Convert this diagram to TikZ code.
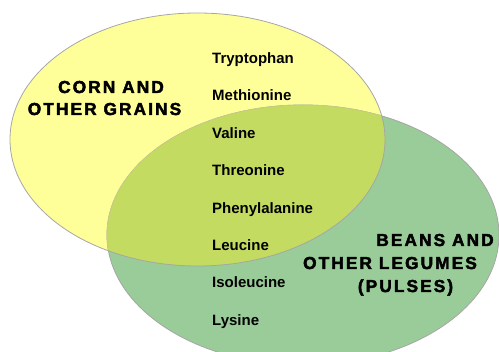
\documentclass[tikz,border=0pt]{standalone}
\usepackage{fontspec}
\setmainfont{Liberation Sans}
\newfontfamily\headfont[LetterSpace=12,FakeBold=2.5]{Liberation Sans Bold}
\usetikzlibrary{positioning}
\definecolor{grainyellow}{RGB}{255,255,153}
\definecolor{legumegreen}{RGB}{153,204,153}
\definecolor{overlapgreen}{RGB}{195,219,97}
\definecolor{rimgray}{RGB}{166,166,166}
\definecolor{rimtan}{RGB}{200,204,130}

\begin{document}
\begin{tikzpicture}[
    x=1pt, y=-1pt,
    node distance=22.5pt,
    acid/.style={inner sep=0pt, anchor=north west, text height=11pt, text depth=3.5pt, font=\fontsize{15}{18}\selectfont\bfseries},
    head/.style={inner sep=0pt, anchor=base, font=\fontsize{17.3}{20}\selectfont\headfont},
    rim/.style={draw=rimgray, line width=0.8pt}
]
\clip (0,0) rectangle (499,352);
% the two sets
\fill[grainyellow] (197.5,139.5) ellipse [x radius=187.5pt, y radius=126.5pt];
\fill[legumegreen] (303,235) ellipse [x radius=196pt, y radius=130pt];
\draw[rim] (303,235) ellipse [x radius=196pt, y radius=130pt];
\begin{scope}
  \clip (197.5,139.5) ellipse [x radius=187.5pt, y radius=126.5pt];
  \fill[overlapgreen] (303,235) ellipse [x radius=196pt, y radius=130pt];
  \draw[draw=rimtan, line width=0.8pt] (303,235) ellipse [x radius=196pt, y radius=130pt];
\end{scope}
\draw[rim] (197.5,139.5) ellipse [x radius=187.5pt, y radius=126.5pt];

% amino acids
\node[acid] (tryp) at (212,52.3) {Tryptophan};
\node[acid, below=of tryp.south west, anchor=north west] (meth) {Methionine};
\node[acid, below=of meth.south west, anchor=north west] (val) {Valine};
\node[acid, below=of val.south west, anchor=north west] (thr) {Threonine};
\node[acid, below=of thr.south west, anchor=north west] (phe) {Phenylalanine};
\node[acid, below=of phe.south west, anchor=north west] (leu) {Leucine};
\node[acid, below=of leu.south west, anchor=north west] (ile) {Isoleucine};
\node[acid, below=of ile.south west, anchor=north west] (lys) {Lysine};

% set titles
\node[head] (corn) at (111,93) {CORN AND};
\node[head] (grains) at (104.5,115) {OTHER GRAINS};
\node[head] (beans) at (435,246) {BEANS AND};
\node[head] (legumes) at (390,269) {OTHER LEGUMES};
\node[head] (pulses) at (405.5,292) {(PULSES)};
\end{tikzpicture}
\end{document}
